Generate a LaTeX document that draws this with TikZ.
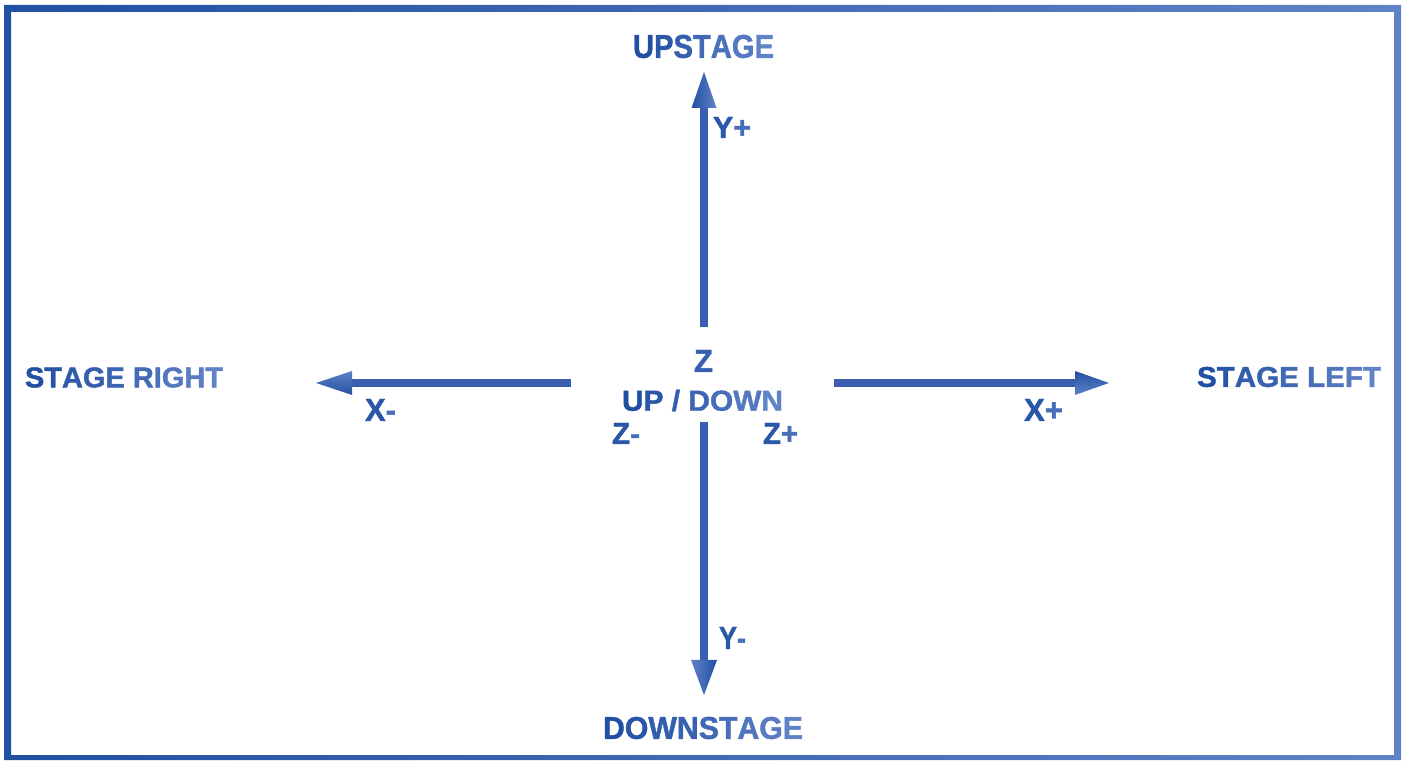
\documentclass[tikz,border=0pt]{standalone}
\usepackage{fontspec}
\setmainfont{Liberation Sans}[BoldFeatures={FakeBold=1.4}]
\usepackage{graphicx}
\definecolor{dk}{HTML}{2150A2}
\definecolor{lt}{HTML}{6082C6}
\definecolor{mid}{HTML}{3A5EB0}
\newcommand{\gc}[2]{\textcolor{lt!#1!dk}{#2}}
\newcommand{\lbl}[3]{\resizebox{#1pt}{#2pt}{\bfseries #3}}
\tikzset{
  lab/.style={inner sep=0pt, anchor=center},
  shaft/.style={draw=mid, line width=7.5pt},
}
\begin{document}
\begin{tikzpicture}[x=1pt,y=1pt]
\useasboundingbox (0,0) rectangle (1407,760);
% frame
\shade[left color=dk, right color=lt, even odd rule]
  (4,0) rectangle (1401,755) (11,5) rectangle (1394,748);

% arrow coordinates
\coordinate (us) at (704,433);
\coordinate (ub) at (704,652);
\coordinate (ut) at (704,688);
\coordinate (ds) at (704,338);
\coordinate (db) at (704,100);
\coordinate (dt) at (704,65);
\coordinate (ls) at (571,377);
\coordinate (lb) at (352,377);
\coordinate (lt) at (316,377);
\coordinate (rs) at (834,377);
\coordinate (rb) at (1075,377);
\coordinate (rt) at (1109,377);

% shafts
\draw[shaft] (us) -- (ub);
\draw[shaft] (ds) -- (db);
\draw[shaft] (ls) -- (lb);
\draw[shaft] (rs) -- (rb);
% heads
\shade[left color=dk, right color=lt] ([xshift=-12.5pt]ub) -- (ut) -- ([xshift=12.5pt]ub) -- cycle;
\shade[left color=lt, right color=dk] ([xshift=-13pt]db) -- (dt) -- ([xshift=13pt]db) -- cycle;
\shade[top color=lt, bottom color=dk] ([yshift=12pt]lb) -- (lt) -- ([yshift=-12pt]lb) -- cycle;
\shade[top color=dk, bottom color=lt] ([yshift=12pt]rb) -- (rt) -- ([yshift=-12pt]rb) -- cycle;

% labels
\node[lab] (up) at (703.5,713.5) {\lbl{141}{23}{\gc{0}{U}\gc{17}{P}\gc{33}{S}\gc{50}{T}\gc{67}{A}\gc{83}{G}\gc{100}{E}}};
\node[lab] (down) at (703,32) {\lbl{200}{22}{\gc{0}{D}\gc{12}{O}\gc{25}{W}\gc{37}{N}\gc{50}{S}\gc{62}{T}\gc{75}{A}\gc{87}{G}\gc{100}{E}}};
\node[lab] (sr) at (124,382.5) {\lbl{198}{20}{\gc{0}{S}\gc{11}{T}\gc{22}{A}\gc{33}{G}\gc{44}{E} \gc{56}{R}\gc{67}{I}\gc{78}{G}\gc{89}{H}\gc{100}{T}}};
\node[lab] (sl) at (1289,383) {\lbl{184}{20}{\gc{0}{S}\gc{12}{T}\gc{25}{A}\gc{37}{G}\gc{50}{E} \gc{62}{L}\gc{75}{E}\gc{87}{F}\gc{100}{T}}};
\node[lab] (yp) at (732,632.5) {\lbl{38}{21}{\gc{15}{Y}\gc{60}{+}}};
\node[lab] (ym) at (732.5,122) {\lbl{27}{22}{\gc{15}{Y}\gc{60}{-}}};
\node[lab] (xm) at (380.5,350) {\lbl{31}{22}{\gc{15}{X}\gc{60}{-}}};
\node[lab] (xp) at (1043.5,350) {\lbl{39}{22}{\gc{15}{X}\gc{60}{+}}};
\node[lab] (z) at (703.5,399) {\lbl{19}{22}{\gc{35}{Z}}};
\node[lab] (ud) at (702.5,359.5) {\lbl{161}{21}{\gc{0}{U}\gc{15}{P} \gc{30}{/} \gc{45}{D}\gc{60}{O}\gc{80}{W}\gc{100}{N}}};
\node[lab] (zm) at (626,326.5) {\lbl{28}{21}{\gc{15}{Z}\gc{60}{-}}};
\node[lab] (zp) at (780.5,326.5) {\lbl{35}{21}{\gc{15}{Z}\gc{60}{+}}};
\end{tikzpicture}
\end{document}
